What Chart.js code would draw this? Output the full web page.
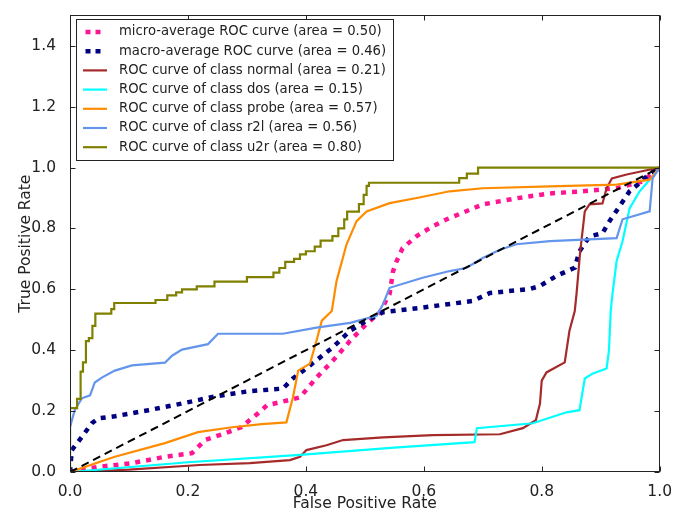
<!DOCTYPE html>
<html>
<head>
<meta charset="utf-8">
<script src="https://cdn.jsdelivr.net/npm/chart.js@4.4.1/dist/chart.umd.min.js"></script>
<style>
  html, body { margin: 0; padding: 0; background: #fff; }
</style>
</head>
<body>
<canvas id="rocChart" width="675" height="513"></canvas>
<script>
// ROC curves (false positive rate / true positive rate)
const microFpr = [0, 0.048, 0.105, 0.161, 0.207, 0.229, 0.263, 0.29, 0.319, 0.334, 0.39, 0.418, 0.446, 0.475, 0.503, 0.525, 0.542, 0.548, 0.554, 0.564, 0.588, 0.615, 0.639, 0.7, 0.757, 0.814, 0.87, 0.927, 0.971, 1.0];
const microTpr = [0, 0.017, 0.029, 0.05, 0.062, 0.105, 0.127, 0.147, 0.193, 0.219, 0.245, 0.31, 0.366, 0.431, 0.487, 0.523, 0.585, 0.66, 0.693, 0.735, 0.775, 0.807, 0.83, 0.879, 0.899, 0.915, 0.922, 0.932, 0.954, 1.0];

const macroFpr = [0, 0.003, 0.02, 0.037, 0.048, 0.076, 0.133, 0.19, 0.246, 0.302, 0.361, 0.378, 0.407, 0.446, 0.475, 0.503, 0.531, 0.598, 0.683, 0.712, 0.78, 0.797, 0.825, 0.856, 0.864, 0.881, 0.903, 0.915, 0.932, 0.949, 0.966, 0.983, 1.0];
const macroTpr = [0, 0.072, 0.115, 0.16, 0.176, 0.183, 0.203, 0.225, 0.248, 0.265, 0.274, 0.307, 0.35, 0.41, 0.464, 0.497, 0.525, 0.54, 0.562, 0.588, 0.601, 0.611, 0.644, 0.671, 0.725, 0.774, 0.784, 0.824, 0.873, 0.922, 0.949, 0.98, 1.0];

const normalFpr = [0, 0.1, 0.22, 0.305, 0.373, 0.39, 0.401, 0.435, 0.463, 0.531, 0.615, 0.729, 0.768, 0.79, 0.797, 0.8, 0.808, 0.839, 0.847, 0.856, 0.859, 0.865, 0.873, 0.881, 0.903, 0.91, 0.919, 0.944, 1.0];
const normalTpr = [0, 0.008, 0.023, 0.029, 0.039, 0.05, 0.072, 0.088, 0.105, 0.114, 0.121, 0.124, 0.144, 0.17, 0.225, 0.3, 0.327, 0.36, 0.464, 0.529, 0.585, 0.72, 0.856, 0.879, 0.882, 0.932, 0.964, 0.977, 1.0];

const dosFpr = [0, 0.2, 0.39, 0.55, 0.686, 0.69, 0.785, 0.842, 0.864, 0.873, 0.886, 0.91, 0.914, 0.917, 0.92, 0.927, 0.937, 0.949, 0.966, 0.983, 1.0];
const dosTpr = [0, 0.032, 0.056, 0.08, 0.098, 0.144, 0.16, 0.196, 0.203, 0.307, 0.323, 0.34, 0.399, 0.529, 0.585, 0.693, 0.758, 0.866, 0.922, 0.96, 1.0];

const probeFpr = [0, 0.076, 0.161, 0.217, 0.275, 0.325, 0.367, 0.378, 0.387, 0.407, 0.418, 0.427, 0.444, 0.452, 0.469, 0.486, 0.503, 0.542, 0.588, 0.644, 0.7, 0.814, 0.927, 0.983, 1.0];
const probeTpr = [0, 0.05, 0.095, 0.131, 0.147, 0.157, 0.163, 0.245, 0.333, 0.356, 0.431, 0.497, 0.529, 0.627, 0.748, 0.824, 0.856, 0.883, 0.9, 0.922, 0.932, 0.938, 0.944, 0.96, 1.0];

const r2lFpr = [0, 0, 0.008, 0.02, 0.034, 0.042, 0.054, 0.076, 0.105, 0.161, 0.173, 0.19, 0.234, 0.251, 0.302, 0.361, 0.418, 0.475, 0.52, 0.531, 0.542, 0.598, 0.644, 0.672, 0.7, 0.729, 0.757, 0.814, 0.927, 0.937, 0.983, 0.988, 1.0];
const r2lTpr = [0, 0.147, 0.203, 0.242, 0.252, 0.294, 0.31, 0.333, 0.35, 0.359, 0.382, 0.402, 0.42, 0.454, 0.454, 0.454, 0.474, 0.49, 0.513, 0.552, 0.605, 0.638, 0.66, 0.67, 0.703, 0.73, 0.748, 0.758, 0.768, 0.83, 0.856, 0.964, 1.0];

const u2rFpr = [0, 0, 0.012, 0.018, 0.022, 0.027, 0.032, 0.038, 0.043, 0.07, 0.075, 0.145, 0.165, 0.18, 0.19, 0.215, 0.245, 0.3, 0.345, 0.355, 0.365, 0.38, 0.39, 0.40, 0.415, 0.425, 0.445, 0.455, 0.465, 0.47, 0.49, 0.498, 0.503, 0.507, 0.66, 0.673, 0.692, 1.0];
const u2rTpr = [0, 0.21, 0.24, 0.33, 0.36, 0.43, 0.44, 0.48, 0.52, 0.535, 0.555, 0.565, 0.58, 0.59, 0.6, 0.61, 0.625, 0.64, 0.655, 0.67, 0.69, 0.70, 0.715, 0.725, 0.74, 0.76, 0.775, 0.80, 0.83, 0.855, 0.88, 0.91, 0.94, 0.95, 0.965, 0.98, 1.0, 1.0];

const chanceFpr = [0, 1];
const chanceTpr = [0, 1];

const seriesLabels = [
  'micro-average ROC curve (area = 0.50)',
  'macro-average ROC curve (area = 0.46)',
  'ROC curve of class normal (area = 0.21)',
  'ROC curve of class dos (area = 0.15)',
  'ROC curve of class probe (area = 0.57)',
  'ROC curve of class r2l (area = 0.56)',
  'ROC curve of class u2r (area = 0.80)'
];
const xTickRange = [0, 1];
const yTickRange = [0, 1.5];

const toPts = (xs, ys) => xs.map((x, i) => ({ x: x, y: ys[i] }));

Chart.defaults.font.family = "'DejaVu Sans', sans-serif";
Chart.defaults.color = '#222';

function curve(i, xs, ys, color, dotted) {
  return {
    label: seriesLabels[i],
    data: toPts(xs, ys),
    borderColor: color,
    backgroundColor: color,
    borderWidth: dotted ? 4.5 : 2.2,
    borderDash: dotted ? [5, 6] : [],
    pointRadius: 0,
    fill: false,
    tension: 0,
    order: 10 - i   // later curves drawn on top, like matplotlib
  };
}

const datasets = [
  curve(0, microFpr, microTpr, 'deeppink', true),
  curve(1, macroFpr, macroTpr, 'navy', true),
  curve(2, normalFpr, normalTpr, '#a52a2a', false),
  curve(3, dosFpr, dosTpr, 'aqua', false),
  curve(4, probeFpr, probeTpr, 'darkorange', false),
  curve(5, r2lFpr, r2lTpr, 'cornflowerblue', false),
  curve(6, u2rFpr, u2rTpr, '#808000', false),
  {
    label: '',
    data: toPts(chanceFpr, chanceTpr),
    borderColor: '#000',
    borderWidth: 2,
    borderDash: [8, 5],
    pointRadius: 0,
    order: 0
  }
];
datasets[6].stepped = 'before';

// box, inward ticks on all sides and the legend, drawn over the curves
const frameAndLegend = {
  id: 'frameAndLegend',
  afterDraw(chart) {
    const { ctx, chartArea: a, scales } = chart;
    const L = Math.round(a.left) + 0.5, R = Math.round(a.right) - 0.5;
    const T = Math.round(a.top) + 0.5, B = Math.round(a.bottom) - 0.5;
    ctx.save();
    ctx.strokeStyle = '#222';
    ctx.lineWidth = 1;
    ctx.setLineDash([]);
    ctx.strokeRect(L, T, R - L, B - T);
    ctx.beginPath();
    scales.x.ticks.forEach(t => {
      const px = Math.round(scales.x.getPixelForValue(t.value)) + 0.5;
      ctx.moveTo(px, B); ctx.lineTo(px, B - 5);
      ctx.moveTo(px, T); ctx.lineTo(px, T + 5);
    });
    scales.y.ticks.forEach(t => {
      const py = Math.round(scales.y.getPixelForValue(t.value)) + 0.5;
      ctx.moveTo(L, py); ctx.lineTo(L + 5, py);
      ctx.moveTo(R, py); ctx.lineTo(R - 5, py);
    });
    ctx.stroke();

    // legend
    const bx = 76.5, by = 19.5, bw = 317, bh = 141;
    ctx.fillStyle = '#fff';
    ctx.fillRect(bx, by, bw, bh);
    ctx.strokeStyle = '#222';
    ctx.strokeRect(bx, by, bw, bh);
    ctx.font = "13.2px 'DejaVu Sans'";
    ctx.textBaseline = 'middle';
    ctx.textAlign = 'left';
    seriesLabels.forEach((lab, i) => {
      const ds = chart.data.datasets[i];
      const cy = 32 + i * 19.2;
      const dotted = ds.borderDash.length > 0;
      ctx.beginPath();
      ctx.strokeStyle = ds.borderColor;
      ctx.lineWidth = ds.borderWidth;
      ctx.setLineDash(dotted ? [5, 5] : []);
      ctx.moveTo(dotted ? 85.5 : 83, cy);
      ctx.lineTo(dotted ? 101 : 107, cy);
      ctx.stroke();
      ctx.fillStyle = '#222';
      ctx.fillText(lab, 119, cy);
    });
    ctx.restore();
  }
};

new Chart(document.getElementById('rocChart'), {
  type: 'line',
  data: { datasets: datasets },
  options: {
    responsive: false,
    animation: false,
    devicePixelRatio: 1,
    layout: { padding: { left: 0, right: 15, top: 14, bottom: 0 } },
    plugins: { legend: { display: false }, tooltip: { enabled: false } },
    scales: {
      x: {
        type: 'linear',
        min: xTickRange[0],
        max: xTickRange[1],
        grid: { display: false },
        border: { display: false },
        ticks: { stepSize: 0.2, padding: 3, font: { size: 15.5 }, callback: v => v.toFixed(1) },
        title: { display: true, text: 'False Positive Rate', font: { size: 15.5 }, padding: { top: 0, bottom: 0 } },
        afterFit: s => { s.height = 41; }
      },
      y: {
        type: 'linear',
        min: yTickRange[0],
        max: yTickRange[1],
        grid: { display: false },
        border: { display: false },
        ticks: { stepSize: 0.2, padding: 6, font: { size: 15.5 }, callback: v => v.toFixed(1) },
        afterBuildTicks: s => { s.ticks = s.ticks.filter(t => t.value <= 1.4 + 1e-9); },
        title: { display: true, text: 'True Positive Rate', font: { size: 15.5 }, padding: { top: 16.5, bottom: 0 } },
        afterFit: s => { s.width = 70; }
      }
    }
  },
  plugins: [frameAndLegend]
});
</script>
</body>
</html>
